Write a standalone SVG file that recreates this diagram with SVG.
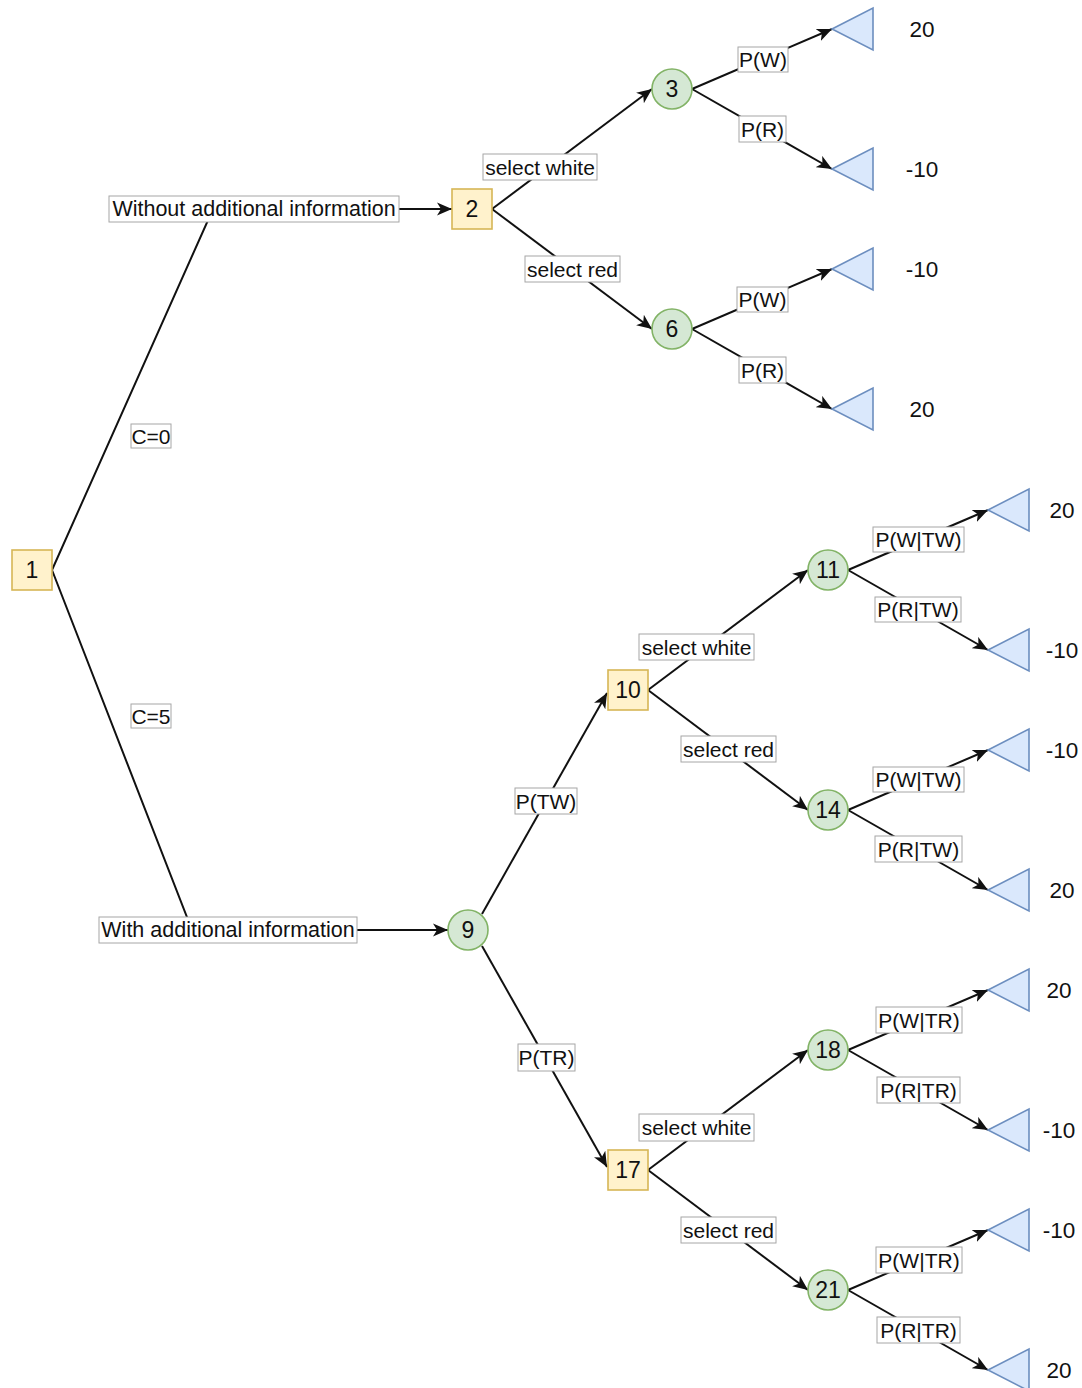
<svg xmlns="http://www.w3.org/2000/svg" width="1082" height="1388" viewBox="0 0 1082 1388">
  <style>
    text { font-family: "Liberation Sans", Arial, sans-serif; fill: #111111; text-anchor: middle; dominant-baseline: central; }
    .lbl { font-size: 21px; }
    .lbl-l { font-size: 21.5px; }
    .num { font-size: 23px; }
    .val { font-size: 22.5px; }
    .dec { fill: #fff2cc; stroke: #d6b656; stroke-width: 1.6; }
    .chance { fill: #d5e8d4; stroke: #82b366; stroke-width: 1.6; }
    .end { fill: #dae8fc; stroke: #6c8ebf; stroke-width: 1.6; stroke-linejoin: miter; }
    .edge { fill: none; stroke: #111111; stroke-width: 2; }
    .arr { marker-end: url(#arrow); }
    .box { fill: #ffffff; stroke: #a6a6a6; stroke-width: 1; }
  </style>
  <defs>
    <marker id="arrow" markerUnits="userSpaceOnUse" markerWidth="16" markerHeight="14" refX="15" refY="7" orient="auto">
      <path d="M0,0.5 L15,7 L0,13.5 L4,7 Z" fill="#111111"/>
    </marker>
  </defs>
  <rect width="1082" height="1388" fill="#ffffff"/>

  <!-- connectors -->
  <g id="connectors">
    <polyline id="e-1-2" class="edge arr" points="52,570 213,209 452,209"/>
    <polyline id="e-1-9" class="edge arr" points="52,570 192,930 448,930"/>
    <line id="e-2-3" class="edge arr" x1="492" y1="209" x2="652" y2="89"/>
    <line id="e-2-6" class="edge arr" x1="492" y1="209" x2="652" y2="329"/>
    <line id="e-3-a" class="edge arr" x1="692" y1="89" x2="832" y2="29"/>
    <line id="e-3-b" class="edge arr" x1="692" y1="89" x2="832" y2="169"/>
    <line id="e-6-a" class="edge arr" x1="692" y1="329" x2="832" y2="269"/>
    <line id="e-6-b" class="edge arr" x1="692" y1="329" x2="832" y2="409"/>
    <line id="e-9-10" class="edge arr" x1="482" y1="914" x2="607" y2="693"/>
    <line id="e-9-17" class="edge arr" x1="482" y1="946" x2="607" y2="1167"/>
    <line id="e-10-11" class="edge arr" x1="648" y1="690" x2="808" y2="570"/>
    <line id="e-10-14" class="edge arr" x1="648" y1="690" x2="808" y2="810"/>
    <line id="e-17-18" class="edge arr" x1="648" y1="1170" x2="808" y2="1050"/>
    <line id="e-17-21" class="edge arr" x1="648" y1="1170" x2="808" y2="1290"/>
    <line id="e-11-a" class="edge arr" x1="848" y1="570" x2="988" y2="510"/>
    <line id="e-11-b" class="edge arr" x1="848" y1="570" x2="988" y2="650"/>
    <line id="e-14-a" class="edge arr" x1="848" y1="810" x2="988" y2="750"/>
    <line id="e-14-b" class="edge arr" x1="848" y1="810" x2="988" y2="890"/>
    <line id="e-18-a" class="edge arr" x1="848" y1="1050" x2="988" y2="990"/>
    <line id="e-18-b" class="edge arr" x1="848" y1="1050" x2="988" y2="1130"/>
    <line id="e-21-a" class="edge arr" x1="848" y1="1290" x2="988" y2="1230"/>
    <line id="e-21-b" class="edge arr" x1="848" y1="1290" x2="988" y2="1370"/>

    <!-- edge labels -->
    <g class="lbl">
      <rect class="box" x="109" y="196" width="290" height="26"/><text class="lbl-l" x="254" y="209">Without additional information</text>
      <rect class="box" x="99" y="917" width="258" height="26"/><text class="lbl-l" x="228" y="930">With additional information</text>
      <rect class="box" x="131" y="424" width="40" height="24"/><text x="151" y="436">C=0</text>
      <rect class="box" x="131" y="704" width="40" height="24"/><text x="151" y="716">C=5</text>
      <rect class="box" x="483" y="154" width="114" height="26"/><text x="540" y="167">select white</text>
      <rect class="box" x="525" y="256" width="95" height="26"/><text x="572.5" y="269">select red</text>
      <rect class="box" x="738" y="47" width="50" height="25"/><text x="763" y="59.5">P(W)</text>
      <rect class="box" x="739" y="116" width="47" height="26"/><text x="762.5" y="129">P(R)</text>
      <rect class="box" x="737" y="287" width="51" height="25"/><text x="762.5" y="299.5">P(W)</text>
      <rect class="box" x="739" y="357" width="47" height="26"/><text x="762.5" y="370">P(R)</text>
      <rect class="box" x="515" y="788" width="62" height="26"/><text x="546" y="801">P(TW)</text>
      <rect class="box" x="518" y="1044" width="57" height="27"/><text x="546.5" y="1057.5">P(TR)</text>
      <rect class="box" x="639" y="634" width="115" height="26"/><text x="696.5" y="647">select white</text>
      <rect class="box" x="681" y="736" width="95" height="26"/><text x="728.5" y="749">select red</text>
      <rect class="box" x="639" y="1114" width="115" height="27"/><text x="696.5" y="1127.5">select white</text>
      <rect class="box" x="681" y="1217" width="95" height="26"/><text x="728.5" y="1230">select red</text>
      <rect class="box" x="873" y="527" width="91" height="25"/><text x="918.5" y="539.5">P(W|TW)</text>
      <rect class="box" x="875" y="597" width="86" height="25"/><text x="918" y="609.5">P(R|TW)</text>
      <rect class="box" x="873" y="767" width="91" height="25"/><text x="918.5" y="779.5">P(W|TW)</text>
      <rect class="box" x="875" y="836" width="87" height="26"/><text x="918.5" y="849">P(R|TW)</text>
      <rect class="box" x="876" y="1007" width="86" height="26"/><text x="919" y="1020">P(W|TR)</text>
      <rect class="box" x="877" y="1077" width="83" height="26"/><text x="918.5" y="1090">P(R|TR)</text>
      <rect class="box" x="876" y="1247" width="86" height="26"/><text x="919" y="1260">P(W|TR)</text>
      <rect class="box" x="877" y="1317" width="83" height="26"/><text x="918.5" y="1330">P(R|TR)</text>
    </g>
  </g>

  <!-- decision nodes -->
  <g id="node-1"><rect class="dec" x="12" y="550" width="40" height="40"/><text class="num" x="32" y="570">1</text></g>
  <g id="node-2"><rect class="dec" x="452" y="189" width="40" height="40"/><text class="num" x="472" y="209">2</text></g>
  <g id="node-10"><rect class="dec" x="608" y="670" width="40" height="40"/><text class="num" x="628" y="690">10</text></g>
  <g id="node-17"><rect class="dec" x="608" y="1150" width="40" height="40"/><text class="num" x="628" y="1170">17</text></g>

  <!-- chance nodes -->
  <g id="node-3"><circle class="chance" cx="672" cy="89" r="20"/><text class="num" x="672" y="89">3</text></g>
  <g id="node-6"><circle class="chance" cx="672" cy="329" r="20"/><text class="num" x="672" y="329">6</text></g>
  <g id="node-9"><circle class="chance" cx="468" cy="930" r="20"/><text class="num" x="468" y="930">9</text></g>
  <g id="node-11"><circle class="chance" cx="828" cy="570" r="20"/><text class="num" x="828" y="570">11</text></g>
  <g id="node-14"><circle class="chance" cx="828" cy="810" r="20"/><text class="num" x="828" y="810">14</text></g>
  <g id="node-18"><circle class="chance" cx="828" cy="1050" r="20"/><text class="num" x="828" y="1050">18</text></g>
  <g id="node-21"><circle class="chance" cx="828" cy="1290" r="20"/><text class="num" x="828" y="1290">21</text></g>

  <!-- end nodes with payoffs -->
  <g id="node-4"><polygon class="end" points="832,29 873,8 873,50"/><text class="val" x="922" y="29">20</text></g>
  <g id="node-5"><polygon class="end" points="832,169 873,148 873,190"/><text class="val" x="922" y="169">-10</text></g>
  <g id="node-7"><polygon class="end" points="832,269 873,248 873,290"/><text class="val" x="922" y="269">-10</text></g>
  <g id="node-8"><polygon class="end" points="832,409 873,388 873,430"/><text class="val" x="922" y="409">20</text></g>
  <g id="node-12"><polygon class="end" points="988,510 1029,489 1029,531"/><text class="val" x="1062" y="510">20</text></g>
  <g id="node-13"><polygon class="end" points="988,650 1029,629 1029,671"/><text class="val" x="1062" y="650">-10</text></g>
  <g id="node-15"><polygon class="end" points="988,750 1029,729 1029,771"/><text class="val" x="1062" y="750">-10</text></g>
  <g id="node-16"><polygon class="end" points="988,890 1029,869 1029,911"/><text class="val" x="1062" y="890">20</text></g>
  <g id="node-19"><polygon class="end" points="988,990 1029,969 1029,1011"/><text class="val" x="1059" y="990">20</text></g>
  <g id="node-20"><polygon class="end" points="988,1130 1029,1109 1029,1151"/><text class="val" x="1059" y="1130">-10</text></g>
  <g id="node-22"><polygon class="end" points="988,1230 1029,1209 1029,1251"/><text class="val" x="1059" y="1230">-10</text></g>
  <g id="node-23"><polygon class="end" points="988,1370 1029,1349 1029,1391"/><text class="val" x="1059" y="1370">20</text></g>
</svg>
